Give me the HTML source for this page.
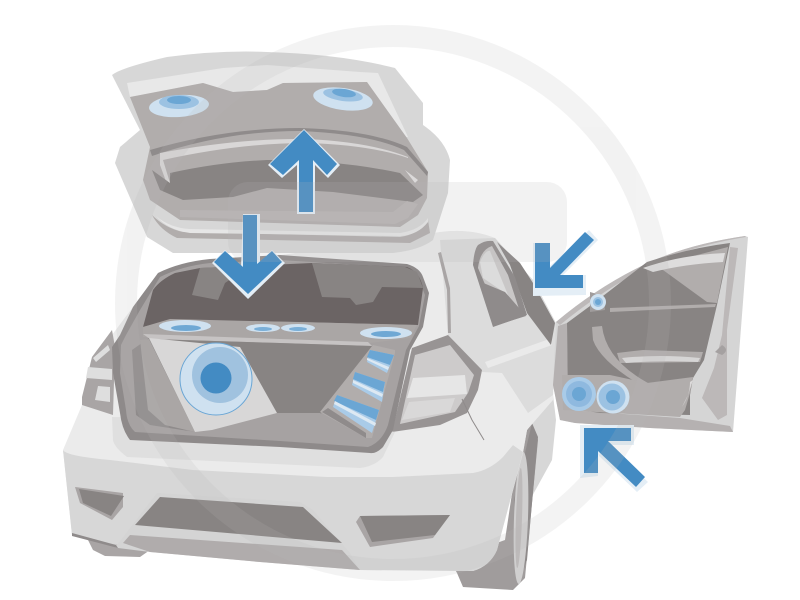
<!DOCTYPE html>
<html><head><meta charset="utf-8"><style>html,body{margin:0;padding:0;background:#fff}svg{display:block}</style></head><body>
<svg width="800" height="600" viewBox="0 0 800 600" xmlns="http://www.w3.org/2000/svg">
<rect width="800" height="600" fill="#fff"/>
<!-- panel ahead of wheel -->
<path d="M528 405 L553 395 L556 420 L552 460 L530 500 L525 505Z" fill="#d7d7d7"/>
<!-- wheel -->
<path d="M450 560 L457 573 L463 587 L513 590 L525 578 L532 503 L538 440 L532 423 L520 440 L505 540Z" fill="#a09c9c"/>
<path d="M532 423 L538 437 L532 503 L527 560 L518 584 L514 500Z" fill="#8f8b8b"/>
<ellipse cx="521" cy="518" rx="7" ry="66" transform="rotate(2 521 518)" fill="#d0cfcf"/>
<ellipse cx="519" cy="518" rx="3" ry="50" transform="rotate(2 519 518)" fill="#bdbaba"/>
<!-- body -->
<path d="M63 450 L82 405 L112 335 L133 307 L158 273 L440 232 Q470 228 495 238 L533 280 L556 323 L553 400 L527 430 L523 453 L497 550 Q490 566 473 571 L360 570 L350 555 L270 558 L150 550 L118 546 L72 535Z" fill="#ebebeb"/>
<path d="M63 450 Q66 456 110 460 L193 470 L327 477 L393 477 L473 473 Q490 470 503 457 L513 445 L523 452 L497 550 Q490 566 473 571 L360 570 L340 560 L150 548 L118 546 L72 535Z" fill="#d7d7d7"/>
<path d="M502 373 L528 413 L532 423 L527 430 L523 452 L513 445 L500 455 L515 420Z" fill="#ebebeb"/>
<path d="M440 240 L448 335 L482 372 L502 373 L528 413 L553 395 L556 323 L533 280 L495 238Z" fill="#dcdcdc"/>
<path d="M485 362 L552 338 L552 345 L488 368Z" fill="#eaeaea"/>
<path d="M438 253 L447 290 L448 333 L451 333 L450 288 L441 252Z" fill="#a9a5a5"/>
<path d="M88 540 L150 550 L140 557 L105 556 L93 550Z" fill="#a9a5a5"/>
<path d="M72 533 L117 545 L157 493 L300 502 L313 510 L350 553 L360 570 L260 562 L150 552 L118 548Z" fill="#d4d4d4"/>
<path d="M72 533 L116 545 L118 548 L72 536Z" fill="#8f8b8b"/>
<path d="M123 543 L130 535 L342 550 L360 570 L260 562 L150 552Z" fill="#b0acac"/>
<path d="M135 525 L160 497 L303 507 L342 543Z" fill="#888483"/>
<path d="M75 487 L123 493 L123 507 L112 520 L80 503Z" fill="#a9a5a5"/>
<path d="M79 489 L124 496 L111 516 L83 503Z" fill="#888483"/>
<path d="M356 522 L360 516 L450 515 L433 538 L370 547Z" fill="#a9a5a5"/>
<path d="M360 516 L450 515 L435 535 L372 542Z" fill="#888483"/>
<!-- side window & pillar -->
<path d="M497 242 L520 263 L533 283 L555 323 L551 345 L527 313 L510 265Z" fill="#888483"/>
<path d="M473 265 Q474 250 478 245 Q485 240 493 241 L515 277 L527 315 L493 327Z" fill="#8f8b8b"/>
<path d="M478 268 Q480 250 492 246 L508 275 L520 312 L490 296Z" fill="#c9c7c7"/>
<path d="M480 262 Q485 250 490 251 L508 295 L483 278Z" fill="#dcdcdc"/>
<path d="M481 282 L505 292 L526 316 L494 326Z" fill="#8f8b8b"/>
<!-- tail lights -->
<path d="M112 330 L92 357 L82 397 L82 405 L113 415 L115 347Z" fill="#a9a5a5"/>
<path d="M88 367 L112 369 L112 380 L86 378Z M98 386 L110 387 L110 402 L95 400Z M93 358 L108 345 L110 350 L96 362Z" fill="#dedede"/>
<path d="M412 348 L448 335 L482 370 L478 390 L467 413 L440 425 L392 432Z" fill="#989494"/>
<path d="M415 355 L450 345 L474 375 L468 393 L455 412 L400 424Z" fill="#cdcbcb"/>
<path d="M413 378 L465 375 L467 394 L407 398Z" fill="#e6e6e6"/>
<path d="M409 402 L455 398 L450 412 L402 420Z" fill="#d9d8d8"/>
<path d="M462 399 L472 420 L484 440" stroke="#8f8b8b" stroke-width="1" fill="none"/>
<!-- trunk -->
<path d="M112 417 L113 440 Q114 447 127 457 L360 468 Q375 466 383 457 L395 432 L300 420Z" fill="#dfdfdf"/>
<path d="M158 273 Q180 262 210 259 L280 255 L407 264 Q420 268 423 277 L429 293 L423 327 L410 350 L393 430 L383 447 Q376 454 370 453 L280 447 L130 440 Q122 430 120 413 L113 373 L112 347 L120 335 L133 307Z" fill="#8e8a8a"/>
<path d="M160 277 Q182 266 210 263 L280 260 L405 268 Q418 272 420 282 L425 295 L419 326 L406 350 L388 425 Q382 442 368 447 L280 441 L135 432 Q127 425 126 410 L120 373 L121 345 L126 335 L140 310Z" fill="#a6a2a2"/>
<path d="M143 327 L153 290 Q160 280 175 273 L200 268 L312 263 L407 267 Q420 272 423 288 L418 325 L300 322 L170 320Z" fill="#6b6464"/>
<path d="M200 268 L192 295 L218 300 L225 283 L250 266Z" fill="#888483"/>
<path d="M312 263 L322 297 L350 298 L356 305 L373 302 L382 287 L423 288 L417 272 L405 267Z" fill="#888483"/>
<path d="M143 327 L170 319 L417 325 L410 338 L370 343 L143 337Z" fill="#aaa6a5"/>
<path d="M143 334 L280 339 L368 342 L372 346 L280 343 L150 339Z" fill="#c6c3c3"/>
<path d="M150 339 L280 343 L372 346 L320 415 L277 413 L195 432 L160 395Z" fill="#888483"/>
<path d="M132 350 L149 338 L195 432 L150 425 L136 415Z" fill="#8f8b8b"/>
<path d="M140 340 L149 339 L195 432 L165 425 L148 410Z" fill="#aaa6a5"/>
<path d="M195 432 L277 413 L320 413 L367 440 L250 437 L150 427Z" fill="#a6a2a2"/>
<path d="M149 338 L240 347 L277 413 L212 430 L195 432Z" fill="#d8d7d7"/>
<path d="M373 345 L395 350 L395 353 L372 438 L366 438 L320 412Z" fill="#b1adac"/>
<path d="M322 412 L328 408 L366 433 L366 438Z" fill="#8f8b8b"/>
<path d="M370 350 L394 355 L387 373 L367 362Z" fill="#a9cbe8"/>
<path d="M370 350 L394 355 L390 365 L367 357Z" fill="#6ba6d4"/>
<path d="M355 372 L385 382 L382 402 L352 385Z" fill="#a9cbe8"/>
<path d="M355 372 L385 382 L383 392 L353 379Z" fill="#6ba6d4"/>
<path d="M337 395 L379 410 L372 433 L333 407Z" fill="#a9cbe8"/>
<path d="M337 395 L379 410 L376 420 L334 401Z" fill="#6ba6d4"/>
<path d="M335 401 L376 423 L375 426 L334 404Z M353 380 L383 394 L382 397 L353 383Z M367 358 L389 367 L388 370 L367 360Z" fill="#dde9f3"/>
<!-- sub -->
<ellipse cx="216" cy="379" rx="36" ry="36" fill="#cfe1f0" stroke="#6aa6d5" stroke-width="1"/>
<circle cx="220" cy="375" r="28" fill="#a0c2df"/>
<circle cx="216" cy="378" r="15.5" fill="#438bc3"/>
<!-- parcel speakers -->
<ellipse cx="185" cy="326" rx="26" ry="6" fill="#cfe1f0"/><ellipse cx="186" cy="328" rx="15" ry="3" fill="#6fa8d4"/>
<ellipse cx="263" cy="328" rx="17" ry="4" fill="#cfe1f0"/><ellipse cx="263" cy="329" rx="9" ry="2" fill="#7aafd8"/>
<ellipse cx="298" cy="328" rx="17" ry="4" fill="#cfe1f0"/><ellipse cx="298" cy="329" rx="9" ry="2" fill="#7aafd8"/>
<ellipse cx="386" cy="333" rx="26" ry="6" fill="#cfe1f0"/><ellipse cx="386" cy="334" rx="15" ry="3" fill="#6fa8d4"/>
<!-- tailgate -->
<path d="M112 75 Q120 68 167 57 Q220 50 267 52 Q340 54 395 68 L423 103 L423 125 Q445 140 450 160 L448 193 L433 240 Q420 250 393 253 L173 253 L147 237 L115 163 L120 147 L140 130Z" fill="#d7d7d7"/>
<path d="M127 83 L223 68 L267 65 L360 72 L378 73 L408 137 L400 137 L367 82 L283 83 L267 90 L233 92 L203 83 L130 97Z" fill="#e8e8e8"/>
<path d="M130 97 L203 83 L233 92 L267 90 L283 83 L367 82 L407 138 L428 172 L427 198 L418 215 L400 227 L180 220 L150 200 L143 180 L150 147Z" fill="#b1adac"/>
<path d="M150 150 Q225 128 300 128 Q370 130 407 147 L428 172 L427 176 L404 150 Q370 134 300 131 Q225 131 152 156Z" fill="#8f8b8b"/>
<path d="M160 153 Q240 138 307 139 Q370 142 408 157 L408 158 Q370 145 307 143 Q240 143 163 160 L170 183 L167 184 L160 165Z" fill="#d9d7d7"/>
<path d="M170 173 Q220 162 267 160 Q340 160 400 173 L423 195 L413 202 L333 192 L267 188 L233 197 L183 200 L160 190 L152 170 L170 183Z" fill="#888483"/>
<path d="M405 170 L418 180 L415 183Z" fill="#dcdada"/>
<path d="M180 210 L393 212 L407 201 L418 204 L408 218 L395 224 L180 217Z" fill="#b8b4b4"/>
<path d="M152 215 Q165 228 183 232 L400 237 Q420 234 428 220 L430 233 L410 243 L177 238 Q160 230 152 215Z" fill="#b1adac"/>
<path d="M156 216 Q170 228 190 229 L400 233 Q420 230 428 218 L428 222 Q418 235 400 236 L190 233 Q168 230 156 216Z" fill="#e6e6e6"/>
<ellipse cx="179" cy="106" rx="30" ry="11" transform="rotate(-4 179 106)" fill="#cfe1f0"/>
<ellipse cx="179" cy="102" rx="20" ry="7" fill="#9cc2e2"/><ellipse cx="179" cy="100" rx="12" ry="4" fill="#6ba6d4"/>
<ellipse cx="343" cy="99" rx="30" ry="11" transform="rotate(8 343 99)" fill="#cfe1f0"/>
<ellipse cx="343" cy="95" rx="20" ry="6" transform="rotate(8 343 95)" fill="#9cc2e2"/><ellipse cx="344" cy="93" rx="12" ry="4" transform="rotate(8 344 93)" fill="#6ba6d4"/>
<!-- door -->
<path d="M556 322 Q600 285 650 262 Q690 244 745 236 L748 237 L733 432 L650 428 L575 423 L560 420 L553 385Z" fill="#d5d5d5"/>
<path d="M556 322 Q600 285 650 262 Q690 244 745 236 L746 237 Q690 246 652 265 Q605 288 560 325Z" fill="#bdb9b9"/>
<path d="M730 247 L738 248 L727 330 L727 395 L727 415 L718 420 L702 398 L714 368 L722 335Z" fill="#bcb8b8"/>
<path d="M558 326 L567 323 L568 410 L680 418 L730 426 L733 432 L650 428 L575 423 L560 420 L553 385Z" fill="#b5b1b1"/>
<path d="M567 323 L590 306 L647 262 Q690 248 730 243 L717 305 L704 360 L693 378 L690 395 L690 415 L600 413 L568 408Z" fill="#888483"/>
<path d="M647 268 L728 247 L717 303 L707 302 L663 270Z" fill="#b1adac"/>
<path d="M643 268 Q680 255 725 253 L723 262 Q685 264 653 272Z" fill="#dedddd"/>
<path d="M610 308 L716 304 L715 307 L610 312Z" fill="#b1adac"/>
<path d="M590 292 Q605 295 605 310 L590 312Z" fill="#a09c9c"/>
<path d="M592 327 L602 326 Q606 360 648 383 L637 383 Q600 360 593 340Z" fill="#b1adac"/>
<path d="M617 353 L643 350 L703 352 L700 362 L620 363Z" fill="#b1adac"/>
<path d="M622 358 Q660 354 700 358 L698 362 Q660 360 626 363Z" fill="#d6d5d5"/>
<path d="M562 375 L610 375 L647 383 L693 377 L690 393 L685 410 L680 417 L563 410Z" fill="#b1adac"/>
<path d="M682 407 Q690 395 690 382 L693 380 L688 395Z" fill="#dcdada"/>
<path d="M722 345 Q730 350 722 355 L715 352 Z" fill="#a5a1a1"/>
<circle cx="579" cy="394" r="17" fill="#a9cbe8"/><circle cx="579" cy="394" r="13" fill="#8fb9df"/><circle cx="579" cy="394" r="7" fill="#6ba6d4"/>
<circle cx="613" cy="397" r="16.5" fill="#cfe1f0"/><circle cx="612" cy="397" r="13.5" fill="#9cc2e2"/><circle cx="613" cy="397" r="7" fill="#6ba6d4"/>
<circle cx="598" cy="302" r="8" fill="#cfe1f0"/><circle cx="598" cy="302" r="5" fill="#9cc2e2"/><circle cx="598" cy="302" r="3" fill="#6ba6d4"/>
<!-- arrows -->
<g fill="#e4eef6">
<path d="M304 129 L340 165 L328 178 L315 165 L315 214 L297 214 L297 165 L282 178 L268 165Z"/>
<path d="M243 214 L260 214 L260 263 L272 250 L285 263 L248 299 L212 263 L225 250 L241 267Z"/>
<path d="M589 230 L598 240 L563 275 L586 275 L586 295 L533 296 L533 243 L550 243 L550 266Z"/>
<path d="M580 425 L634 425 L634 445 L609 445 L648 482 L637 492 L598 455 L598 476 L580 478Z"/>
</g>
<g fill="#438bc3">
<path d="M304 130 L337 164 L327 175 L313 160 L313 212 L299 212 L299 160 L283 175 L270 164Z"/>
<path d="M243 215 L257 215 L257 264 L272 251 L282 262 L248 294 L214 262 L225 251 L243 267Z"/>
<path d="M585 232 L594 240 L560 275 L583 275 L583 288 L535 288 L535 243 L550 243 L550 268Z"/>
<path d="M584 428 L631 428 L631 441 L608 441 L645 477 L636 487 L598 451 L598 473 L584 473Z"/>
</g>
<!-- watermark -->
<g opacity=".17">
<circle cx="393" cy="303" r="267" fill="none" stroke="#b8b8b8" stroke-width="22"/>
<rect x="228" y="182" width="339" height="80" rx="20" fill="#b8b8b8"/>
</g>
</svg>
</body></html>
